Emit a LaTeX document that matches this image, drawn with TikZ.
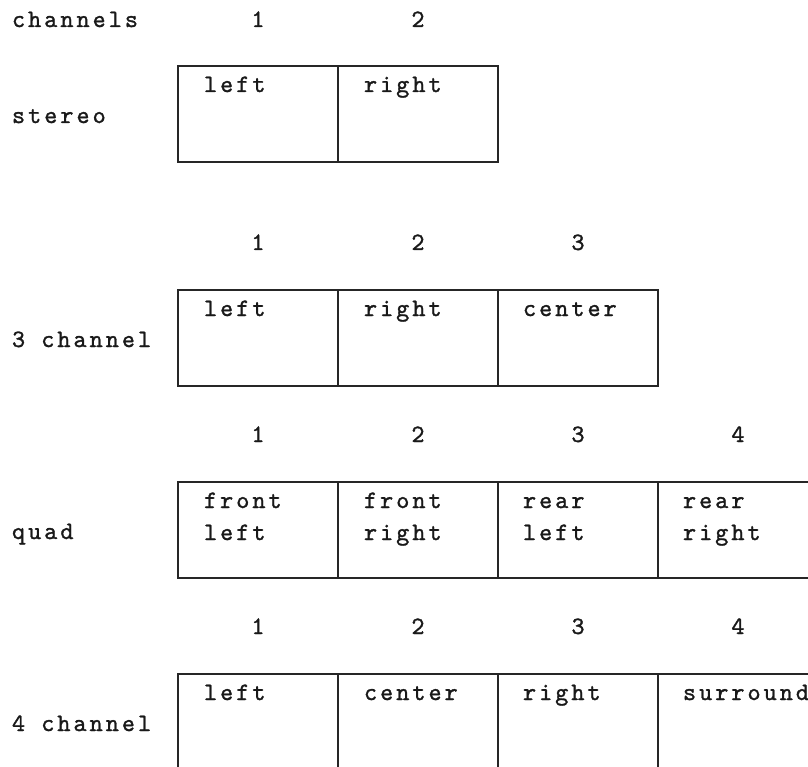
\documentclass[tikz,border=0pt]{standalone}
\usepackage{fontspec}
\newfontfamily\labfont[LetterSpace=12,FakeBold=1.2]{lmmono10-regular.otf}
\begin{document}
\begin{tikzpicture}[x=1pt,y=-1pt,
  every node/.style={inner sep=0pt, outer sep=0pt},
  txt/.style={font=\labfont\fontsize{25}{32}\selectfont, text=black!90},
  lbl/.style={txt, anchor=base west},
  num/.style={txt, anchor=base},
  cell/.style={draw=black!85, line width=1.3pt, minimum width=160pt,
    minimum height=96pt, anchor=north west},
  celltext/.style={txt, anchor=base west, align=left}]
\useasboundingbox (0,0) rectangle (808,767);

% row labels
\node[lbl] (hdr) at (12,27) {channels};
\node[lbl] (rstereo) at (12,123) {stereo};
\node[lbl] (rthree) at (12,347) {3 channel};
\node[lbl] (rquad) at (12,539) {quad};
\node[lbl] (rfour) at (12,731) {4 channel};

% stereo
\node[num] (n11) at (258,27) {1};
\node[num] (n12) at (418,27) {2};
\node[cell] (s1) at (178,66) {};
\node[cell] (s2) at (338,66) {};
\node[celltext] (ts1) at (204,92) {left};
\node[celltext] (ts2) at (364,92) {right};

% three channel
\node[num] (n21) at (258,250) {1};
\node[num] (n22) at (418,250) {2};
\node[num] (n23) at (578,250) {3};
\node[cell] (t1) at (178,290) {};
\node[cell] (t2) at (338,290) {};
\node[cell] (t3) at (498,290) {};
\node[celltext] (tt1) at (204,316) {left};
\node[celltext] (tt2) at (364,316) {right};
\node[celltext] (tt3) at (523,316) {center};

% quad (two-line cells: base anchor sits on the second line)
\node[num] (n31) at (258,442) {1};
\node[num] (n32) at (418,442) {2};
\node[num] (n33) at (578,442) {3};
\node[num] (n34) at (738,442) {4};
\node[cell] (q1) at (178,482) {};
\node[cell] (q2) at (338,482) {};
\node[cell] (q3) at (498,482) {};
\node[cell] (q4) at (658,482) {};
\node[celltext] (tq1) at (204,540) {front\\left};
\node[celltext] (tq2) at (364,540) {front\\right};
\node[celltext] (tq3) at (523,540) {rear\\left};
\node[celltext] (tq4) at (683,540) {rear\\right};

% four channel
\node[num] (n41) at (258,634) {1};
\node[num] (n42) at (418,634) {2};
\node[num] (n43) at (578,634) {3};
\node[num] (n44) at (738,634) {4};
\node[cell] (f1) at (178,674) {};
\node[cell] (f2) at (338,674) {};
\node[cell] (f3) at (498,674) {};
\node[cell] (f4) at (658,674) {};
\node[celltext] (tf1) at (204,700) {left};
\node[celltext] (tf2) at (364,700) {center};
\node[celltext] (tf3) at (523,700) {right};
\node[celltext] (tf4) at (683,700) {surround};
\end{tikzpicture}
\end{document}
